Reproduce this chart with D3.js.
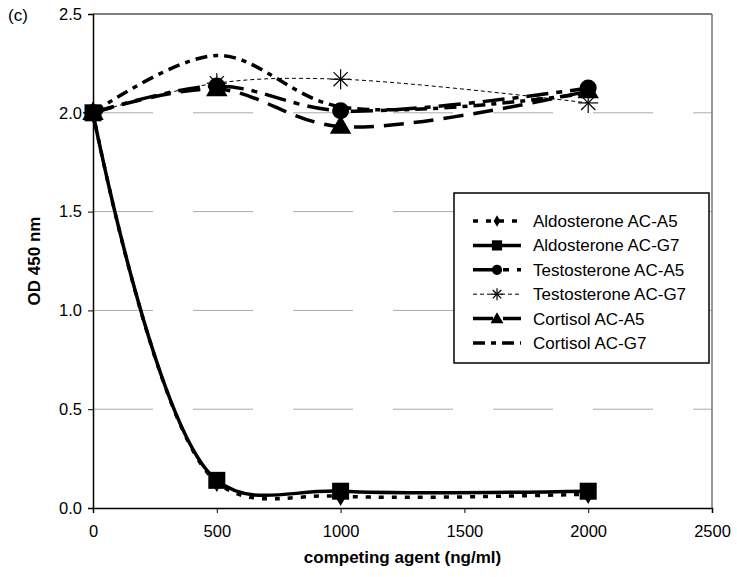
<!DOCTYPE html>
<html>
<head>
<meta charset="utf-8">
<script src="https://cdn.jsdelivr.net/npm/d3@7"></script>
<style>
  body { margin: 0; background: #fff; }
  svg { display: block; font-family: "Liberation Sans", Arial, sans-serif; }
</style>
</head>
<body>
<div id="chart"></div>
<script>
// data
var concentrations = [0, 500, 1000, 2000];
var seriesNames = ["Aldosterone AC-A5", "Aldosterone AC-G7", "Testosterone AC-A5",
                   "Testosterone AC-G7", "Cortisol AC-A5", "Cortisol AC-G7"];
var aldoA5 = [2.0, 0.13, 0.06, 0.07];
var aldoG7 = [2.0, 0.14, 0.085, 0.085];
var testoA5 = [2.0, 2.135, 2.01, 2.125];
var testoG7 = [2.0, 2.15, 2.17, 2.05];
var cortA5 = [2.0, 2.12, 1.93, 2.11];
var cortG7 = [2.0, 2.29, 2.03, 2.1];
var xTicks = [0, 500, 1000, 1500, 2000, 2500];
var yTicks = [0, 0.5, 1.0, 1.5, 2.0, 2.5];
var gridValues = [0.5, 1.0, 1.5, 2.0];

var width = 737, height = 577;
var margin = {left: 93, right: 25, top: 14, bottom: 69};

var svg = d3.select("#chart").append("svg")
  .attr("width", width)
  .attr("height", height);

var x = d3.scaleLinear().domain([0, 2500]).range([margin.left, width - margin.right]);
var y = d3.scaleLinear().domain([0, 2.5]).range([height - margin.bottom, margin.top]);

// styles per series
var styles = [
  {values: aldoA5, dash: "5,8", width: 3.5, marker: "diamond"},
  {values: aldoG7, dash: null, width: 3.5, marker: "square"},
  {values: testoA5, dash: "22,8,6,8", width: 3.5, marker: "circle"},
  {values: testoG7, dash: "4,3", width: 1, marker: "asterisk"},
  {values: cortA5, dash: "20,10", width: 3.5, marker: "triangle"},
  {values: cortG7, dash: "12,6,5,6", width: 3.5, marker: null}
];

// gridlines
svg.append("g").selectAll("line").data(gridValues).enter().append("line")
  .attr("x1", x(0)).attr("x2", x(2500))
  .attr("y1", function(d) { return y(d); }).attr("y2", function(d) { return y(d); })
  .attr("stroke", "#aaa").attr("stroke-width", 1)
  .attr("stroke-dasharray", "60,40");

// frame top & right
svg.append("line").attr("x1", x(0)).attr("x2", x(2500)).attr("y1", y(2.5)).attr("y2", y(2.5))
  .attr("stroke", "#555").attr("stroke-width", 1.5);
svg.append("line").attr("x1", x(2500)).attr("x2", x(2500)).attr("y1", y(2.5)).attr("y2", y(0))
  .attr("stroke", "#777").attr("stroke-width", 1.5);

// axes
var xAxis = d3.axisBottom(x).tickValues(xTicks).tickSize(5).tickPadding(12).tickFormat(d3.format("d"));
var yAxis = d3.axisLeft(y).tickValues(yTicks).tickSize(5).tickPadding(6).tickFormat(d3.format(".1f"));

var gx = svg.append("g").attr("transform", "translate(0," + y(0) + ")").call(xAxis);
var gy = svg.append("g").attr("transform", "translate(" + x(0) + ",0)").call(yAxis);
[gx, gy].forEach(function(g) {
  g.select(".domain").attr("stroke", "#000").attr("stroke-width", 1.5);
  g.selectAll(".tick line").attr("stroke", "#000");
  g.selectAll("text").attr("font-size", 16.5).attr("fill", "#000")
    .attr("font-family", "Liberation Sans, Arial, sans-serif");
});

// axis titles
svg.append("text")
  .attr("x", (x(0) + x(2500)) / 2).attr("y", 563)
  .attr("text-anchor", "middle").attr("font-size", 17).attr("font-weight", "bold")
  .text("competing agent (ng/ml)");
svg.append("text")
  .attr("transform", "translate(40," + ((y(0) + y(2.5)) / 2) + ") rotate(-90)")
  .attr("text-anchor", "middle").attr("font-size", 17).attr("font-weight", "bold")
  .text("OD 450 nm");
svg.append("text").attr("x", 8).attr("y", 21).attr("font-size", 17).text("(c)");

// lines (Excel-style smoothing)
var line = d3.line()
  .x(function(d, i) { return x(concentrations[i]); })
  .y(function(d) { return y(d); })
  .curve(d3.curveCatmullRom.alpha(0.5));

function drawMarker(g, type, cx, cy, k) {
  k = k || 1;
  if (type === "square") {
    var h = 8.5 * k;
    g.append("rect").attr("x", cx - h).attr("y", cy - h).attr("width", 2 * h).attr("height", 2 * h).attr("fill", "#000");
  } else if (type === "circle") {
    g.append("circle").attr("cx", cx).attr("cy", cy).attr("r", 8.5 * k).attr("fill", "#000");
  } else if (type === "diamond") {
    g.append("path").attr("d", d3.symbol().type(d3.symbolDiamond).size(110 * k * k)())
      .attr("transform", "translate(" + cx + "," + cy + ")").attr("fill", "#000");
  } else if (type === "triangle") {
    g.append("path").attr("d", d3.symbol().type(d3.symbolTriangle).size(200 * k * k)())
      .attr("transform", "translate(" + cx + "," + (cy + 1) + ")").attr("fill", "#000");
  } else if (type === "asterisk") {
    var r = 10 * k;
    [0, 45, 90, 135].forEach(function(a) {
      var rad = a * Math.PI / 180;
      g.append("line")
        .attr("x1", cx - r * Math.cos(rad)).attr("y1", cy - r * Math.sin(rad))
        .attr("x2", cx + r * Math.cos(rad)).attr("y2", cy + r * Math.sin(rad))
        .attr("stroke", "#000").attr("stroke-width", 1.2);
    });
  }
}

var linesG = svg.append("g");
styles.forEach(function(s) {
  linesG.append("path")
    .attr("d", line(s.values))
    .attr("fill", "none").attr("stroke", "#000")
    .attr("stroke-width", s.width)
    .attr("stroke-dasharray", s.dash);
});
var markG = svg.append("g");
styles.forEach(function(s) {
  if (!s.marker) return;
  s.values.forEach(function(v, i) {
    drawMarker(markG, s.marker, x(concentrations[i]), y(v));
  });
});

// legend
var lx = 454, ly = 193, lw = 255, lh = 170;
var legend = svg.append("g");
legend.append("rect").attr("x", lx).attr("y", ly).attr("width", lw).attr("height", lh)
  .attr("fill", "#fff").attr("stroke", "#000").attr("stroke-width", 1.5);
seriesNames.forEach(function(name, i) {
  var s = styles[i];
  var yy = ly + 28 + i * 24.4;
  legend.append("line").attr("x1", lx + 19).attr("x2", lx + 67).attr("y1", yy).attr("y2", yy)
    .attr("stroke", "#000").attr("stroke-width", s.width).attr("stroke-dasharray", s.dash);
  if (s.marker) drawMarker(legend, s.marker, lx + 43, yy, 0.6);
  legend.append("text").attr("x", lx + 79).attr("y", yy + 6)
    .attr("font-size", 17).text(name);
});
</script>
</body>
</html>
